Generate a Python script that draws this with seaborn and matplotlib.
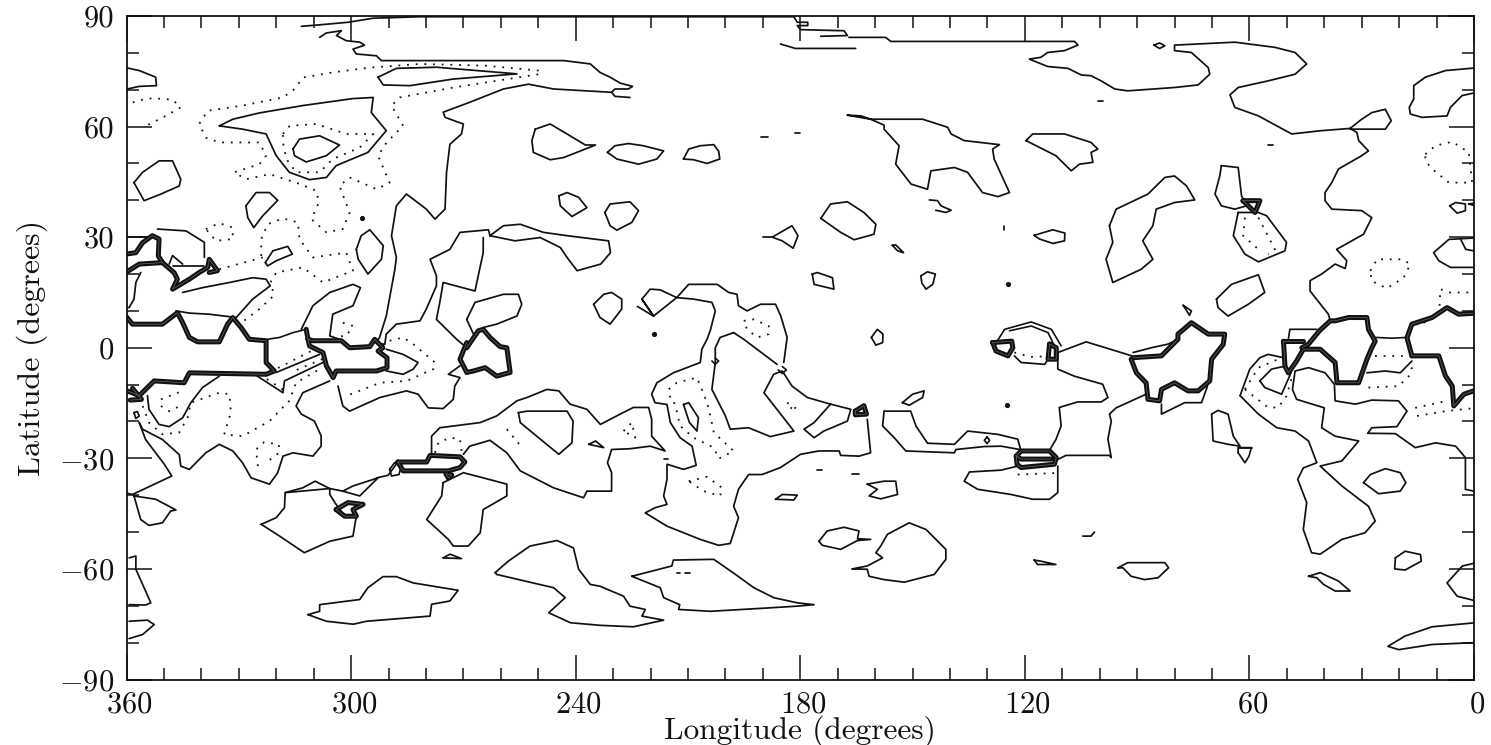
#!/usr/bin/env python

from matplotlib import pyplot as plt
from matplotlib.transforms import ScaledTranslation
import pandas as pd
import seaborn as sns

sns.set_theme(style="ticks")
plt.rcParams["font.family"] = ["cmr10", "DejaVu Serif"]
plt.rcParams["mathtext.fontset"] = "cm"
plt.rcParams["axes.unicode_minus"] = False
plt.rcParams["axes.formatter.use_mathtext"] = True

# contours as (longitude, latitude)
lon_shift = 1.5

x_major = [360, 300, 240, 180, 120, 60, 0]
y_major = [-90, -60, -30, 0, 30, 60, 90]
y_labels = ["$-90$", "$-60$", "$-30$", "0", "30", "60", "90"]

# north cap
cap_border = [(314.8,87.2),(309.9,87.6),(302.3,88.3),(295.6,89.4),(283,89.8),(183.2,89.8),(182.3,88.3),(179.5,88.3),(179.5,87.4),(182.3,87.4),(181.4,86.3),(169.8,86),(168.9,84.7),(176,84.5)]
cap_east = [(168.5,84.2),(158.7,84.2),(157.3,83.1),(108.2,83.1),(107.3,82.1),(110.9,80.6),(115.4,80.1),(117.2,78.8),(120.3,78.3),(115.4,76.3),(110,75.8),(106.4,74),(103.8,73.8),(101.1,72.4),(97.5,70.2),(94,69.7),(81.5,70.6),(75.2,71.3),(72.1,74.2),(72.5,76),(77,80.1),(81.5,80.6),(81.5,82.1),(65.4,82.9),(54.7,81.5),(49.3,80.1),(46.2,77),(49.3,74.2),(56.5,72.4),(64.5,70.6),(66.7,68.6),(65.4,65.2),(59.1,62.9),(50.2,58),(42.2,58.9),(34.6,59.5),(32.8,58.4),(32.3,56.2),(29.7,53.4),(31.5,52.1),(37.7,48.5),(39.5,44.8),(41.3,42.1),(41.3,39.9),(39.5,37.6),(31.5,37.2),(28.8,35.3),(31,30.8),(38.2,26.7),(35.5,23.6),(35.9,21.5),(38.6,22.7),(42.2,20),(45.3,18.2),(45.3,15.4),(40.4,9.1),(39.9,7.3)]
cap_bar = [(186.8,82.4),(182.8,81.2),(166.7,81.2)]
cap_west = [(309.9,84.2),(308.1,85.4),(304.1,86),(305.4,84.7),(302.8,83.3),(299.2,82.9),(297.9,82.1),(301,81),(300.1,79.7),(294.7,79.2),(293.4,77.9),(274.2,77.9),(244.7,77.9),(237.6,77),(235,74.7),(232.3,73.4),(229.6,71.8),(226.3,70.9),(227.4,70.2),(231,70.2),(231.9,69.3),(231,68.2),(227,67.9)]
west_coast = [(231.9,69.3),(247.4,70.2),(254.1,71.5),(260.8,70.2),(269.8,66.6),(276.9,63.9),(276.4,62.5),(271.5,60.7),(272,58),(275.1,55.2),(276,47.6),(276.4,37.6),(279.1,34.9),(281.4,37.6),(286.7,41.7),(289.4,38.5),(290.7,30.4),(289.4,24.5),(289.8,21.3),(292.1,8.6),(293.9,2.8),(294.8,1.4)]
cap_loop = [(34.6,59.5),(31.5,62),(28.8,63.8),(25.2,64.7),(23.6,61.6),(25.2,59.3),(34.6,59.3)]
cap_ring = [(87,82.1),(85.5,82.7),(84.1,81.9),(85.5,81.2)]

# closed thin patches, north
lens = [(294.3,73.4),(289.4,75.8),(278.7,76.1),(257.2,74.3),(274.2,72.9),(285.8,71.1),(292.9,71.3)]
edge_nw = [(362.2,76.1),(358.1,75.2),(353.7,73.4),(353.5,71.1),(358.1,70.9),(362.2,70)]
big_n = [(336.7,60.2),(333.1,62),(326,63.7),(314.4,65.7),(301,67.6),(295.6,67.9),(296.1,63.8),(292.1,58.9),(297,53),(305.5,49.4),(308.1,46.2),(312.6,45.6),(318,47.6),(321.5,52.1),(324.2,58),(330.5,59.3)]
core_n = [(317,53.9),(315.3,56.6),(309.9,57.5),(304.6,55),(308.1,52.1),(313.5,50.4),(316.6,52.1)]
blob_k = [(359.5,44.8),(357.2,47.6),(352.8,50.7),(349.2,50.7),(347,45.7),(347.4,43.9),(352.3,41.7),(356.8,39.9)]
blob_l = [(329.6,38.5),(326.9,42.1),(323.3,42.1),(321.1,40),(325.1,35.8),(327.5,32.6),(329.1,35.3)]
blob_m = [(300.1,26.7),(298.8,30.4),(296.5,32),(292.9,27.7),(293.4,24),(297,20),(299.6,24)]
blob_o = [(324.4,23.1),(322.4,26.3),(318.4,27.5),(317.2,25.4),(321.5,23.6),(323.8,22.2)]
blob_w = [(270.6,7.7),(268.4,12.3),(260.8,14.5),(256.8,14.5),(255.9,11.8),(257.2,8.6),(262.6,6.4),(266.2,5.5),(268.8,3.7)]
band_v = [(264.4,30.4),(260.8,33.1),(256.3,33.5),(250.1,31.3),(243.8,30.4),(232.7,29),(232.2,25.8),(234.8,22.7),(241.1,20.9),(243.8,24.5),(245.6,27.2),(251,29.9),(257.7,29)]
blob_y = [(252.3,59.3),(248.3,60.7),(243,57.5),(238.9,55),(236.2,55),(244.7,51.6),(248.3,51),(252.8,53),(253.2,56.2)]
blob_z = [(233,53),(231,54.8),(227.4,55.4),(223.4,54.8),(218,53.4),(219.8,51.2),(224.7,49.8),(230.5,51.2)]
blob_aa = [(212.7,51.2),(211.3,53.9),(208.2,54.8),(204.6,55.1),(203.3,53.3),(203,51.2),(206.4,50),(210,51)]
blob_ab = [(168.9,63.1),(165.3,62.9),(162.7,62),(148.8,62),(142.1,59.8),(141.2,58),(137.7,56.2),(128.3,55.1),(130.1,53.9),(129.7,51.2),(125.6,42.1),(128.7,41),(132.8,42.1),(136.8,47.6),(140.3,48.9),(146.6,48),(147.5,43),(151.9,44.4),(156,49.8),(155.1,54.8),(159.1,59.3),(159.1,60.4),(162.7,62)]
blob_ac = [(121.2,56.2),(119.4,58),(110.9,58),(103.8,55.7),(102,53.9),(103.8,53),(103.3,50.3),(106.9,49.8),(109.1,48),(113.2,52.1)]
blob_ad = [(233.7,36.7),(232.3,39),(227,39.6),(224.7,37.2),(226.5,34),(230.5,31.9),(232.3,33.1)]
blob_ae = [(176,35.1),(173.4,39),(168.9,39.6),(164.5,36.7),(161.3,33.5),(161.8,30.8),(167.1,29.3),(170.7,31.3)]
blob_af = [(189,30),(183.7,33.1),(182.1,30.4),(183.4,27),(186.3,29)]
blob_ag = [(156.9,27.8),(156,27.9),(153.9,25.8),(155.5,26.3)]
blob_ai = [(119,30.5),(114,32),(110.8,31.1),(110.9,29),(114,28.3),(117.6,29.5)]
blob_ak = [(236.7,11.8),(234,14.5),(231.9,15),(229.2,13.2),(229.2,10.5),(232.3,6.4),(235,8.2)]
blob_al = [(246,41.2),(243.8,42.1),(240.7,40.8),(238.5,38),(242.5,35.6),(245.6,38.5)]
blob_p1 = [(178.3,20),(176.9,20.4),(172.9,19),(172.5,15.9),(177.8,17.2)]
blob_p2 = [(149.3,19.5),(147.5,20.6),(145.4,20),(146.1,17.2),(147.9,15.9),(149,17.5)]
blob_p3 = [(162.5,2.8),(160.9,5),(159.4,3.7),(159.5,1.4),(161.3,.7)]
blob_an = [(70.3,13.2),(66.3,17.2),(59.1,19.8),(57.4,15),(61.8,11.8),(67.2,8.6),(69.9,10.9)]
blob_ao = [(79.2,11.5),(77,10),(77.5,8.8)]
banana = [(98.9,33.1),(97.1,37.6),(88.6,41.7),(84.1,46.2),(81.5,46.6),(78.3,43.9),(76.1,40.1),(81.5,39.4),(86.4,37.6),(87.3,33.1),(90,29),(87.3,24),(90.4,21.3),(98,17.7),(99.8,24),(98,28.6)]
blob_aq = [(69,49.4),(64.5,48.9),(63.6,41.2),(62.3,38.5),(65.4,37.6),(69,38.5),(70.7,41.7),(69.4,46.7)]
blob_ar = [(64.5,36.7),(65.8,30.4),(62.7,25.4),(59.1,23.3),(52,26.3),(51.6,28.6),(56.9,35.8),(59.1,36.7)]
blob_as = [(8,38.5),(6.4,39.4),(3.8,39),(3.8,37.2),(6,36.5)]

# closed thin patches, south
bb_patch = [(256.8,-17.6),(254.5,-17.2),(243.8,-17.2),(242.2,-19.9),(242.5,-25.8),(246,-28.9),(251.9,-24),(256.3,-20.3)]
bc_small = [(238,-26.2),(236.2,-25.3),(234,-27.1)]
bc_lobe = [(325.5,-47.9),(321.5,-46.1),(319.3,-43.4),(319.1,-39.3),(314.4,-38),(311.1,-36.2),(307.2,-38.2),(307.2,-39.8),(305.5,-42.5),(303.2,-45.7),(300.1,-45.7),(301,-51.1),(307.2,-52.5),(314,-55.6),(320.6,-51.1)]
bd_lobe = [(276.9,-36.6),(277.3,-40.2),(281.3,-46.6),(275.5,-52),(274.2,-53.8),(270.2,-53.8),(267,-50.2),(266.2,-43.9),(259.9,-40.2),(259.9,-37),(266.2,-35.3),(271.5,-33.9)]
be_small = [(276.9,-57),(275.1,-56),(272,-57.2)]
bf_lobe = [(359.5,-40.2),(357.7,-46.6),(355.5,-48.2),(351.9,-47.5),(349.7,-44.3),(348.3,-44),(353.7,-41.1)]
bi_long = [(313,-72.4),(309.9,-71.5),(309.9,-69.7),(299.2,-68.3),(297,-65.1),(293,-62.1),(289.4,-62.1),(284.9,-63.8),(272.9,-65.8),(275.1,-68.7),(280,-69.6),(280.4,-72.8),(297.4,-74.2),(300.9,-75),(308.1,-74.2)]
bj_long = [(263,-61),(259.5,-57.9),(253.7,-53.8),(246.5,-52.3),(242.1,-54.3),(240.7,-60.1),(237.6,-64.2),(235,-64.7),(228.7,-67.4),(227,-70.1),(222.9,-71),(223.8,-72.8),(218,-73.9),(226.1,-75.7),(235,-75.3),(242.9,-74.6),(248.7,-71.9),(244.3,-67.8),(247.4,-65.1),(262.6,-61.5)]
bk_long = [(226.5,-62),(215.8,-59.2),(215.4,-57.6),(204.6,-57.4),(198.8,-61.5),(193.9,-65.1),(188.6,-67.8),(182.3,-69.2),(177.8,-69.7),(182.3,-70.1),(190.3,-70.6),(205.5,-71.5),(214,-71),(213.7,-69.7),(218,-67.8),(218.9,-65.1)]
bl_blob = [(176.5,-52.5),(174.3,-49.7),(169.8,-48.7),(165.8,-49.7),(166.2,-51.8),(162.7,-52),(166.2,-52.3),(170.7,-54.7),(175.6,-53.6)]
bm_blob = [(167.6,-60),(163.6,-59.2),(159.5,-57),(161.3,-55.6),(160,-53.8),(158.2,-50.6),(152.4,-47.5),(147.9,-49.3),(142.6,-54.7),(142.6,-57.4),(145.7,-61.5),(153.7,-63.6),(159.1,-62.9),(163.1,-62),(163.6,-60.1)]
bn_blob = [(163.6,-37),(159.1,-36.2),(156,-36.2),(155.5,-39.8),(160,-41),(163.1,-40.2),(160.9,-38.4)]
bo_blob = [(188.1,-41.1),(186.3,-39.8),(182.3,-40),(183.2,-41.3)]
bp_blob = [(154.2,-14.9),(151.5,-12.6),(148.4,-11.7),(148.8,-13.5),(152.4,-15.6)]
bt_blob = [(71.6,-18),(69.9,-17),(67.2,-18),(65.8,-24),(64,-26.7),(67.2,-26.2),(71.2,-25.3)]
bt_tail = [(64.5,-28.5),(62.7,-31.2),(61.6,-29.4),(61,-27.1),(64.5,-27.1)]
bu_blob = [(31,-36.6),(29.2,-34.4),(25.2,-32.8),(21.2,-33.9),(19.7,-36.6),(21.2,-38.9),(27,-39.6)]
bv_blob = [(22.5,-57),(19.9,-55.2),(15.8,-56.1),(15.6,-57.9),(19.9,-60.3),(22.7,-60)]
bw_blob = [(45.7,-62),(42.6,-61),(37.7,-63.3),(34.6,-66),(38.6,-66),(41.7,-64.2),(43.5,-62.4)]
bx_blob = [(96.6,-59.7),(94,-58.3),(84.1,-58.3),(83.1,-59.7),(85.9,-62.4),(89.5,-62.9),(93.1,-62),(95.3,-59.7)]
by_blob = [(119,-57.6),(117.2,-57.9),(113.2,-58.8),(118.1,-58.8)]
inner_lobe = [(58.7,-9),(55.6,-5.8),(52,-5),(50.4,-6.8),(52.9,-12.6),(57.4,-10.8)]
valles_loop = [(212.7,-15.4),(211.3,-14.9),(208.7,-19),(209.1,-22.6),(211.1,-20.3)]
bz_ring = [(131.6,-24.2),(130.9,-25.1),(131.6,-26),(132.3,-25.1)]
sw_ring = [(359.5,-17.6),(358.6,-17.3),(358.1,-18.5),(359,-19.2)]
hex_small = [(291.2,-33),(289.9,-31.2),(288.1,-32.1),(288.7,-34.4),(290.7,-34.8)]

# open thin paths
peninsula = [(348.3,10),(344.7,9.4),(339.4,9.1),(332.2,8.2),(327.8,13.2),(323.1,16.8),(324.2,18.6),(327.8,19),(334,17.7),(341.2,16.3),(346.5,15)]
left_lobe = [(357.7,20.4),(359,17.7),(359.5,13.2),(360.8,10.9),(361.7,10.9)]
amazon_top = [(353.2,32.2),(345.6,31.7),(340.7,28.6),(340.7,24.5)]
amazon_box = [(361.7,30),(354.6,30)]
amazon_bar = [(349.2,22.2),(340.7,22.2)]
amazon_ring = [(350.1,22.7),(349.2,25),(346.5,22.7)]
u_west = [(294.8,1.4),(292.5,.9),(292.1,3.7),(289.4,6.4),(283.1,7.3),(281.4,10.5),(278.7,16.8),(278.7,19.5),(280.4,24),(275.1,26.7),(272.4,31.3),(264.8,32),(264.4,30.4)]
u_east = [(266.2,29.9),(266.2,25.8),(268.4,15.4),(276.9,17.7),(277.8,12.3),(278.7,7.7),(273.3,2.3),(270.6,0)]
x_arm = [(314.8,5),(311.7,11.4),(307.2,15),(301,17.2),(299,16.3),(301,11.4),(306.4,9.1),(307.2,3.2),(304.6,2.3)]
strip_a = [(327.3,-7.2),(319.7,-12.2),(319.3,-9),(309,-4)]
strip_b = [(321.5,-6.7),(309.9,-1.8)]
coast_r = [(307.2,-9),(314.4,-12.2),(316.2,-15.8),(314.8,-18),(311.3,-19.9),(309.5,-23.9),(309.5,-26.7),(311.7,-29.4),(317,-28.5),(319.7,-29.4),(321.1,-33.9),(323.3,-37),(328.2,-35.3),(330.5,-31.2),(333.1,-28),(336.7,-26.2),(340.3,-28.5),(344.7,-33),(347,-32.1),(347.4,-29),(351.9,-24.9),(357.2,-22.1),(358.1,-20.3)]
coast_l = [(358.1,-20.3),(356.4,-24.9),(351.4,-31.6),(349.4,-34.8),(359.9,-39.8),(361.3,-39.5)]
lobe_s = [(355.9,-13),(355.5,-16.7),(352.8,-20.8),(350.1,-21.4),(346.5,-19),(344.3,-14.9),(341.2,-10.8),(336.7,-7.7)]
arm_t = [(305,-10.4),(303.7,-15.8),(301.9,-17.2),(293.8,-13.5),(286.7,-11.7),(283.6,-12.6),(280.9,-16.3),(276.9,-16.5),(274.2,-14),(273.8,-10.4),(272.4,-8.1),(275.5,-7.2),(272.4,-4.9)]
arm_t2 = [(292.1,-.4),(287.6,-1.8),(283.6,-4),(284.9,-5.8),(287.6,-7.2),(292.1,-6.3)]
central_a = [(223.8,13.2),(221.6,15.9),(218.9,15.7),(214.5,13.6),(210,13.2),(205.1,12.3),(204.2,10),(205.5,4.8),(206.4,2.3),(207.8,-.4),(208.2,-4),(215.4,-6.8),(219.8,-9.5),(221.2,-12.6),(220.3,-14.9),(217.1,-15.4),(216.2,-20.3),(213.6,-24.4),(210.4,-26.7),(209.3,-31.9),(212.7,-33),(217.1,-31.6),(217.1,-35.7),(218,-40.2),(217.1,-42.5),(220.3,-43.4),(222.9,-44.8),(217.1,-48.4),(208.2,-52),(203.3,-53.6),(200.2,-53.1),(198,-46.1),(199.3,-43),(198,-38.4),(195.3,-34.4),(191.7,-34.4),(186.8,-32.5),(181.4,-28.9),(176.5,-28),(171.1,-28),(170.7,-29.2),(165.8,-29.4),(162.7,-28.5),(163.6,-19.4)]
central_b = [(220.7,8.6),(223.8,13.2),(220.7,8.6),(214.5,13.6),(211.3,17.2),(203.7,17.2),(200.6,15),(198.4,14.5),(198,11.4),(195.7,10),(192.1,11.8),(188.1,11.8),(186.7,8.6),(185,2.8),(185.9,-4)]
central_c = [(199.3,4.1),(202.9,2.8),(204.2,0),(204.2,-4),(205.1,-11.3),(201.5,-18.5),(200.2,-22.1),(195.3,-21.7),(189.5,-24.1),(183.2,-22.6),(191.2,-12.2),(188.6,-7.2),(186.3,-6.3),(183.7,-10.4),(179.6,-13.5),(173.4,-15.3),(177.8,-20.3),(180.5,-22.1),(177.8,-24.4),(175.2,-22.6),(168.9,-19.9),(168,-16.7),(173.4,-15.3)]
central_d = [(199.3,4.1),(196.6,2.3),(187.7,-4.5)]
central_e = [(220.7,8.6),(225,11.2)]
gap_ba = [(280,-28.5),(280,-24),(277.8,-21.7),(267,-20.3),(262.6,-18.5),(257.2,-14.4),(254.5,-13.5),(249.2,-11.3),(246,-11.7),(243,-15.3),(238.5,-16.7),(234.9,-20.8),(229.6,-18),(226.1,-16.2),(222,-16.2),(221.2,-19.4),(221.2,-24),(217.6,-28),(221.6,-26.7),(227,-27.4),(231.9,-27.6),(233,-31.2),(231.9,-33.9),(231.9,-38.9),(238.5,-38.9),(239.4,-40.7),(247.4,-38),(256.3,-33.4),(259.9,-28.5),(264.4,-25.1),(269.8,-26.7),(271.5,-28.9)]
connector = [(294.7,-35.3),(291.6,-34.6),(289,-31)]
wedge_a = [(319.1,-39.3),(307.2,-38.2),(303.7,-38.9),(299.2,-40.2),(294.3,-35.3),(301,-37.5),(303.7,-38.9)]
edge_sw1 = [(360.8,-57),(359,-56.5),(359,-60.1),(356.8,-65.1),(355,-69.2),(356.4,-69.8),(360.8,-69.7)]
edge_sw2 = [(360.8,-74.2),(355.9,-73.9),(354.1,-75.1),(357.2,-77.8),(360.8,-78.9)]
bq_north = [(159.1,-17.2),(152,-17.2),(150.6,-21.2),(147.5,-25.9),(140.3,-26.2),(136.8,-22.6),(128.7,-23.5),(123.4,-24.8),(122.5,-28)]
bq_south = [(159.1,-17.2),(159.5,-21.2),(156.4,-24.4),(153.3,-28),(140.3,-28.5),(139.9,-27.6),(132.3,-26.8),(127.8,-26.7),(122.9,-27.6)]
bs_lobe = [(123.4,-32.1),(127.8,-33.2),(136.3,-33.7),(137.7,-36.2),(134.1,-38.4),(125.2,-39.8),(119.4,-41.1),(114.9,-41.1),(112.7,-39.3),(112.7,-32.1)]
mid_east = [(115,-28),(113.2,-24.9),(111.8,-21.2),(112.3,-16.2),(107.4,-14.7),(101.1,-14.7),(99.3,-13.5),(100.7,-9.9),(108.3,-7.7),(112.7,-5.8),(112.7,-1.3),(105.1,1.6),(92.9,-2.2)]
mid_south = [(112.7,-30.3),(110.5,-29.2),(98.9,-29.2),(98.4,-29.8),(99.3,-24.8),(98.4,-19.9),(98.9,-18),(97.1,-16.3),(89.1,-12.6)]
mid_lobe = [(92.6,-1.3),(87.7,0),(83.2,1),(80.6,2.3)]
mid_tab = [(85,-15.3),(85,-18),(78.8,-14.9),(74.3,-14.9),(72.7,-10.4)]
hellas = [(64,-13),(61.4,-5.8),(58.7,-2.7),(56.5,-1.8),(52.4,-2.7)]
hellas_long = [(64,-13),(59.1,-18),(54.2,-21.7),(49.3,-22.6),(45.7,-25.3),(43.5,-31.2),(47.1,-32.6),(48.6,-35.7),(46.2,-42),(47.1,-49.3),(44.9,-55.6),(42.6,-56),(36.8,-52),(30.6,-50.2),(27.9,-47),(29.7,-43),(36.8,-37.5),(42.6,-32.1),(36.8,-30.7),(32.3,-25.3),(38.6,-24),(42.2,-21.7),(41.5,-16.3),(48.9,-14),(50,-11.3),(49.3,-6.3),(45.7,-5.4),(41.3,-6.8),(38.8,-9.9),(38.6,-14.4),(33.2,-15.3),(28.8,-14.2),(21.7,-14.4),(19.4,-17.2),(22.1,-21.4),(28.8,-21.7),(29.9,-23.2),(22.5,-23.3),(17.2,-27.1),(11.8,-25.8),(6.4,-26.7),(3.8,-29.8),(3.8,-38.4),(.7,-39.1)]
east_inner = [(30.1,-6.8),(25.2,-6.3),(21.2,-6.8),(18.1,-3.6)]
east_tab = [(51.1,2.3),(50.7,5),(43.5,5)]
east_small = [(14.9,6.8),(12.7,8.2)]
edge_e1 = [(17.6,71.1),(14.5,73.4),(9.1,75.2),(-1,76.1)]
edge_e2 = [(-1,69.7),(4.7,68.4),(7.8,65.2),(8.7,62.9),(15.4,62.5),(18.5,63.4),(18.8,65.2),(17.6,67.5),(17.6,71.1)]
edge_e3 = [(-1,29.9),(8.2,29.4),(12.3,25.8),(10.9,23.6),(7.8,21.8),(-1,21.8)]
edge_e4 = [(5.1,29.5),(3.7,26.7),(-1,25.8)]
edge_e5 = [(2.9,39),(-1,39.6),(-1,37.9),(2.9,39)]
edge_e6 = [(-1,-57.9),(4.6,-59.2),(8.7,-63.8),(6,-67.4),(-1,-69.2)]
edge_e7 = [(-1,-74.4),(12.7,-75.7),(19.9,-78.2),(24.5,-81),(21.6,-81.9),(12.7,-80.5),(-1,-79.9)]
tail_a = [(106,-51.1),(103.8,-51.1),(102.9,-50)]
blob_tail = [(64.5,-27.1),(60.9,-27.1)]
dash_a = [(191.9,57.1),(190,57.1)]
dash_b = [(182.8,58.2),(181.7,58.2)]
dash_c = [(127.1,33),(127.1,32)]
dash_d = [(101.9,67),(100.7,67)]
dash_e = [(56.5,55),(55.3,55)]
dash_f = [(177,-33.1),(175.6,-33.1)]
dash_g = [(167.8,-34.2),(165.8,-34.2)]
dash_h = [(218,-30.1),(216.7,-30.1)]
dash_i = [(214.5,-61),(213.5,-61)]
dash_j = [(212.3,-61),(211,-61)]
sheet_hook = [(147,40.1),(144.8,39.9),(143.9,38.5),(141.2,37.3),(142.6,36.7),(145.3,37.3)]
af_tail = [(191.5,30),(189,30)]

# thick contours
thick_a = [(361.7,20.4),(358.1,22.7),(351.9,23.1),(348.8,20.4),(347.9,18.6),(349.2,15.9),(344.7,18.6),(342.1,20.4),(339.8,21.8),(339.4,24),(337.2,20.9),(339.4,20.4)]
thick_b = [(361.7,25.4),(359,25.8),(357.2,28.5),(354.6,30.4),(352.8,29.5),(353,24.9),(351.9,23.1)]
thick_c = [(361.7,8.6),(359.9,6.4),(351.9,6.4),(347.9,9.5),(346.5,6.8),(344.7,2.8),(342.5,1.6),(336.7,1.6),(334.5,6.4),(333.1,8.2),(330.9,5.5),(328.7,2.3),(324.2,1.9),(324.2,-4),(322,-6.3),(324.2,-7.2),(344.7,-6.8),(346.1,-9.5),(354.1,-9),(358.1,-13),(361.3,-11.7)]
thick_d = [(313.5,5),(313,2.3),(311.7,1.9),(304.1,1.9),(301.9,0),(296.5,.3),(295.2,2.3),(293,0),(294.3,-.9),(291.9,-2.7),(291.9,-5.4),(294.7,-6.3),(305.5,-6.3),(306.3,-8.1),(308.1,-4.9),(309,-1.3),(312.6,.5),(313,2.3)]
thick_e = [(270.6,0),(267.5,4.6),(266.2,5),(264.4,2.8),(261.7,.3),(259.9,0),(259,-6.7),(262.6,-7.7),(265.7,-5.4),(268.8,-6.3),(270.6,-6.7),(272.4,-3.1),(270.6,1.4)]
thick_f = [(289,-31),(281.3,-31),(280.4,-29.2),(272.4,-29.6),(271.1,-31),(272.4,-32.5),(275.5,-33.4),(277.8,-33.4),(287.6,-33.4),(289,-31)]
thick_g = [(305.5,-43.9),(302.3,-42),(298.3,-42.5),(301,-43.9),(300.1,-45.7),(303.2,-45.7),(305.5,-43.9)]
thick_h = [(123.8,-29.4),(122.5,-28),(114.9,-28),(113.1,-29.8),(113.6,-31.6),(122.5,-32.5),(123.6,-31.6),(123.8,-29.4),(122.5,-30.2),(114.5,-30.2)]
thick_i = [(93.1,-3.1),(91.7,-6.8),(89.1,-9.5),(88.6,-14),(85.5,-14.4),(85,-11.3),(81.5,-9.5),(77.9,-11.7),(75.2,-11.7),(72.1,-9),(71.6,-3.1),(68.5,.9),(68.1,3.7),(72.5,3.7),(77,6.8),(80.6,3.7),(80.6,2.3),(85,-2.2),(92.6,-2.7)]
thick_j = [(52.4,1.8),(52,-5),(51.1,-6.8),(48.9,-3.6),(47.1,-.4),(42.6,-.4),(38.6,-4),(38.1,-9.5),(32.3,-9.5),(30.1,-3.1),(28.8,0),(27.9,1.8),(29.7,5),(30.1,8.2),(35,8.2),(38.6,7.3),(39.9,7.3),(42.8,4.6),(45.7,1),(47.5,0)]
thick_k = [(52.4,1.9),(47.1,1.9)]
thick_l = [(18.1,-2.2),(10.9,-2.2),(9.1,-7.7),(7.3,-10.4),(6.9,-15.8),(4.2,-12.6),(-1,-10.8)]
thick_m = [(18.1,-2.2),(19.4,2.7),(18.1,6.4),(12.7,8.2),(8.7,10.9),(5.6,9.1),(-1,9.5)]
thick_n = [(130.1,1.4),(129.2,-.9),(126,-2.2),(124.7,0),(125,1.8),(130.1,1.4)]
thick_o = [(114.9,1),(113.1,0),(113.1,-3.1),(115.3,-3.1),(114.9,1)]
thick_p = [(63.2,39.9),(58.7,39.9),(60,36.7),(63.2,39.9)]
thick_q = [(166.8,-17.2),(164.5,-15.7),(163.8,-18),(166.8,-18.2),(166.8,-17.2)]
thick_r = [(275.5,-35.3),(274.6,-34.5),(276.2,-34.2),(275.5,-35.3)]
thick_s = [(359.9,-11),(357.5,-14),(360.5,-14.2)]

# medium double rings
ring_outer = [(130,0),(126.9,5),(119.8,7),(114.4,5),(111.8,.5)]
ring_inner = [(125.6,4.6),(119.8,5.9),(115.3,4.1),(113.6,.5)]
ring_low = [(124.3,-2.2),(122.5,-4),(116.2,-4.5),(115.3,-3.1)]
ring_a = [(204.2,-2.8),(203.3,-3.6),(204.2,-4.5),(205.1,-3.6)]
ring_b = [(186.3,-5.1),(185.2,-6),(186.3,-7),(187.4,-6)]
link_a = [(323.8,2.3),(320.6,2.8),(317,4.1),(313.5,5)]
link_b = [(27.9,2.8),(23.5,2.6),(19.4,2.8)]

# dotted contours
dot_f = [(361.7,65.2),(359,67),(354.6,67.7),(349.2,67.3),(347,65.2),(351,62.9),(355.9,60.4)]
dot_g = [(251.4,75.2),(265.3,76.5),(283.1,77),(296.5,76),(306.4,74.7),(314.4,73.3),(316.6,70.2),(319.7,67.9),(330.5,65.7),(339.8,64.3),(342.1,60.7),(340.3,57),(336.7,55.7),(326,55.7),(324.2,52.1),(326,49.8),(332.7,47.6),(329.6,45.7),(323.3,47.1),(316.2,44.8),(310.8,42.6),(310.1,39.4),(312.1,34.9),(308.1,31.3),(303.7,32.2),(301.9,36.7),(304.6,43.9),(301.9,46.2),(294.7,43),(291.2,44.8),(294.3,52.1),(292,55.7),(287.6,60.2),(290.7,65.7),(288.5,67.9),(274.2,70.6),(265.3,72),(251.4,74.2)]
dot_i = [(319.7,58),(317.9,60.2),(310.8,60.7),(302.8,58),(295.6,58),(299.2,54.3),(306.4,51.2),(309.9,47.6),(316.2,47.6),(318.8,51.2),(319.7,55.7),(319.7,58)]
dot_small = [(340.3,32.2),(336.7,33.8),(333.1,32.6),(333.1,29.5),(337.6,29),(340.3,32.2)]
dot_n = [(325.5,24.9),(325.5,29.5),(323.8,33.5),(319.7,35.1),(315.7,34),(315.3,29.5),(311.7,24.5),(302.8,25.8),(301,20.9),(309,17.7),(314.4,21.8),(321.5,20.4),(322.9,18.1),(322.2,14.1),(326,10.5),(331.3,6.4)]
dot_n2 = [(336.7,21.3),(325.1,24.5)]
dot_x = [(303.7,6.8),(301,5.9),(302.8,3.2),(306,3)]
dot_x2 = [(291.2,1.9),(287.6,2.8),(284.9,1),(279.1,-4),(279.5,-5.8),(286.7,-9),(293.8,-9.5),(302.8,-13.1)]
dot_s = [(357.2,-15.8),(355.5,-20.3),(351.9,-23.5),(347.4,-23),(345.2,-19),(344.3,-14.9),(336.7,-12.2),(334,-12.6),(333.6,-17.6),(335.4,-23.5),(330.5,-24),(323.3,-19.9),(318,-14.4),(316.2,-9.5),(309.9,-5.8)]
dot_s2 = [(352.3,-14),(346.5,-11.7)]
dot_s3 = [(352.3,-15.8),(350.1,-17.2),(346.1,-15.3)]
dot_s4 = [(326.4,-32.1),(326.9,-27.6),(324.7,-25.6),(320.8,-26.2),(320.8,-28.5),(324.2,-31.2)]
dot_s5 = [(321,-5.5),(312,-.8)]
dot_s6 = [(324,-8.5),(319.5,-11.5)]
dot_s7 = [(316,-6),(309,-3)]
dot_c1 = [(216.2,-13.5),(216.7,-11.3),(214.5,-9.5),(209.1,-8.1),(207.8,-11.3),(206.4,-14.9),(205.5,-18.5),(204.6,-23),(199.3,-28),(203.3,-30.1),(204.6,-27.1),(210,-24.4),(213.6,-21.2),(214.9,-15.4),(216.2,-13.5)]
dot_c2 = [(228.7,-22.6),(226.5,-20.3),(225.6,-24.4),(228.7,-22.6)]
dot_c3 = [(211.3,-36.2),(206.4,-35),(202.4,-38),(202.9,-40.2),(207.3,-38.9),(211.3,-36.2)]
dot_c4 = [(185,-14.9),(182.3,-16.7),(184.5,-16.2)]
dot_c5 = [(196.6,7.3),(193.9,7.7),(189.9,5.9),(189.9,3.7),(193,2.8),(195.7,5),(196.6,7.3)]
dot_c6 = [(259.9,-22.1),(256.3,-26.5)]
dot_c7 = [(279.1,-28.5),(278.2,-25.8),(275.1,-24.4),(272.4,-24.8),(272,-28)]
dot_m1 = [(123.4,-34.4),(113.6,-34)]
dot_m2 = [(124.3,-1.3),(120,-2.5),(115.3,-2.3)]
dot_e1 = [(62.7,-11.3),(59.1,-5.4),(53.8,-3.1)]
dot_e2 = [(62.7,-11.3),(56.5,-16.2),(53.8,-16.2),(51.6,-13.1),(49.8,-6.8)]
dot_e3 = [(29.7,-10.8),(21.6,-10.4),(18.9,-7.7),(17.6,-4)]
dot_e4 = [(27.9,-2.2),(19.9,-2.2)]
dot_e5 = [(17.2,-16.3),(8.7,-14.4)]
dot_e6 = [(16.7,-18.5),(9.1,-17.2),(.7,-16.3)]
dot_e7 = [(10.7,11.4),(10.5,15.9),(8.2,15),(1.1,15)]
dot_e8 = [(14.5,52.5),(11.8,54.8),(7.3,55.9),(2.9,53),(2,44.8),(8.2,44.8),(12.7,48.5),(14.5,50.7),(14.5,52.5)]
dot_e9 = [(29.2,20.9),(27.4,24),(20.7,24),(18.5,22.7),(20.3,19),(24.8,16.1),(28.8,18.1),(29.2,20.9)]
dot_e10 = [(62.7,35.3),(63.2,30.4),(59.1,26.7)]
dot_e11 = [(59.1,35.3),(54.7,26.7),(56.5,25.4)]

# small filled specks
speck_lon = [298.6, 220.7, 125.9, 126.2]
speck_lat = [35.1, 3.8, 17.2, -15.6]

closed_thin = [lens, edge_nw, big_n, core_n, blob_k, blob_l, blob_m, blob_o, blob_w, band_v, blob_y,
               blob_z, blob_aa, blob_ab, blob_ac, blob_ad, blob_ae, blob_af, blob_ag, blob_ai, blob_ak,
               blob_al, blob_p1, blob_p2, blob_p3, blob_an, blob_ao, banana, blob_aq, blob_ar, blob_as,
               bb_patch, bc_small, bc_lobe, bd_lobe, be_small, bf_lobe, bi_long, bj_long, bk_long,
               bl_blob, bm_blob, bn_blob, bo_blob, bp_blob, bt_blob, bt_tail, bu_blob, bv_blob, bw_blob,
               bx_blob, by_blob, inner_lobe, valles_loop, bz_ring, sw_ring, hex_small, cap_loop, cap_ring]
open_thin = [cap_border, cap_east, cap_bar, cap_west, west_coast, peninsula, left_lobe, amazon_top,
             amazon_box, amazon_bar, amazon_ring, u_west, u_east, x_arm, strip_a, strip_b, coast_r, coast_l,
             lobe_s, arm_t, arm_t2, central_a, central_b, central_c, central_d, central_e, gap_ba, connector,
             wedge_a, edge_sw1, edge_sw2, bq_north, bq_south, bs_lobe, mid_east, mid_south, mid_lobe,
             mid_tab, hellas, hellas_long, east_inner, east_tab, east_small, edge_e1, edge_e2, edge_e3,
             edge_e4, edge_e5, edge_e6, edge_e7, tail_a, blob_tail, dash_a, dash_b, dash_c, dash_d, dash_e,
             dash_f, dash_g, dash_h, dash_i, dash_j, sheet_hook, af_tail, ring_low]
medium = [ring_outer, ring_inner, ring_a, ring_b, link_a, link_b]
thick = [thick_a, thick_b, thick_c, thick_d, thick_e, thick_f, thick_g, thick_h, thick_i, thick_j, thick_k,
         thick_l, thick_m, thick_n, thick_o, thick_p, thick_q, thick_r, thick_s]
dotted = [dot_f, dot_g, dot_i, dot_small, dot_n, dot_n2, dot_x, dot_x2, dot_s, dot_s2, dot_s3, dot_s4, dot_s5,
          dot_s6, dot_s7, dot_c1, dot_c2, dot_c3, dot_c4, dot_c5, dot_c6, dot_c7, dot_m1, dot_m2, dot_e1,
          dot_e2, dot_e3, dot_e4, dot_e5, dot_e6, dot_e7, dot_e8, dot_e9, dot_e10, dot_e11]


def to_frame(paths, close=False):
    rows = []
    for i, path in enumerate(paths):
        pts = path + path[:1] if close else path
        for lon, lat in pts:
            rows.append((i, lon - lon_shift, lat))
    return pd.DataFrame(rows, columns=["contour", "lon", "lat"])


def draw(frame, ax, color="#111111", **kwargs):
    sns.lineplot(data=frame, x="lon", y="lat", units="contour", estimator=None, sort=False,
                 color=color, legend=False, ax=ax, solid_joinstyle="round", **kwargs)


fig = plt.figure(figsize=(14.91, 7.45), dpi=100)
ax = fig.add_axes([126.5 / 1491, 1 - 679.5 / 745, 1347.5 / 1491, 663.5 / 745])

thin_frame = pd.concat([to_frame(closed_thin, True),
                        to_frame(open_thin).assign(contour=lambda d: d["contour"] + 1000)])
draw(thin_frame, ax, linewidth=1.25)
draw(to_frame(dotted), ax, linewidth=1.3, linestyle=(0, (1, 3.8)))
draw(to_frame(medium), ax, linewidth=1.2)
draw(to_frame(thick), ax, linewidth=3.6)
draw(to_frame(thick), ax, color="#666666", linewidth=0.5)
sns.scatterplot(x=[v - lon_shift for v in speck_lon], y=speck_lat, color="#111111", s=14, linewidth=0, ax=ax)

ax.set_xlim(360, 0)
ax.set_ylim(-90, 90)
ax.set_xticks(x_major)
ax.set_xticks(range(0, 361, 10), minor=True)
ax.set_yticks(y_major)
ax.set_yticks(range(-90, 91, 10), minor=True)
ax.set_yticklabels(y_labels)
ax.tick_params(which="major", direction="in", length=18, width=1.1, top=True, right=True, labelsize=22, color="#111111", labelcolor="#111111")
ax.tick_params(which="minor", direction="in", length=8.6, width=1.1, top=True, right=True, color="#111111")
ax.tick_params(axis="x", which="major", pad=8)
ax.tick_params(axis="y", which="major", pad=9)
for side in ax.spines.values():
    side.set_linewidth(1.3)
    side.set_color("#111111")
ax.set_xlabel("Longitude (degrees)", fontsize=22.5, color="#111111", labelpad=-1.5)
ax.set_ylabel("Latitude (degrees)", fontsize=23, color="#111111", labelpad=8)
# the scan sits a little to the right at the bottom edge
nudge = ScaledTranslation(3 / 100, 0, fig.dpi_scale_trans)
for label in ax.get_xticklabels():
    label.set_transform(label.get_transform() + nudge)

fig.savefig("out.png", dpi=100)
